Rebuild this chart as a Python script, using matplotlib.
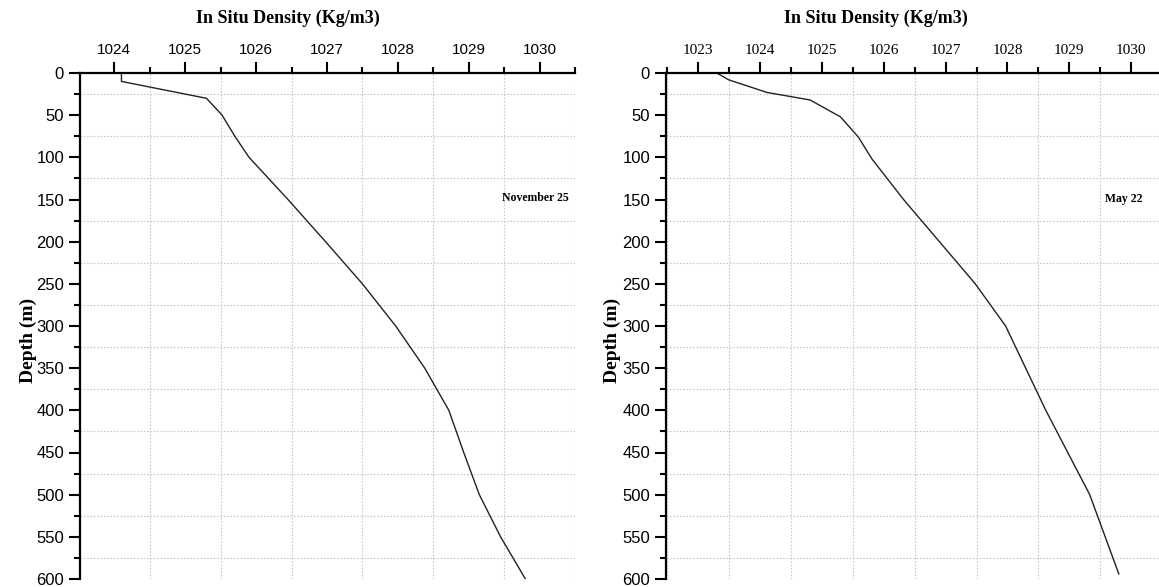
import matplotlib.pyplot as plt
from matplotlib.ticker import MultipleLocator

# depth profiles
nov_depth = [0, 10, 30, 50, 75, 100, 150, 200, 250, 300, 350, 400, 450, 500, 550, 600]
nov_density = [1024.1, 1024.1, 1025.3, 1025.52, 1025.7, 1025.9, 1026.45, 1026.98, 1027.5,
               1027.97, 1028.38, 1028.72, 1028.93, 1029.15, 1029.45, 1029.8]

may_depth = [0, 2, 8, 23, 32, 52, 76, 102, 150, 200, 250, 300, 400, 500, 594]
may_density = [1023.3, 1023.35, 1023.49, 1024.11, 1024.81, 1025.3, 1025.59, 1025.81,
               1026.32, 1026.9, 1027.48, 1027.97, 1028.62, 1029.33, 1029.8]

xlabel = 'In Situ Density (Kg/m3)'
ylabel = 'Depth (m)'

sans = ['Liberation Sans Narrow', 'Liberation Sans', 'DejaVu Sans']
serif = ['Liberation Serif', 'DejaVu Serif']

fig = plt.figure(figsize=(11.59, 5.87), dpi=100)
ax1 = fig.add_axes([80 / 1159, 8 / 587, 495 / 1159, 506 / 587])
ax2 = fig.add_axes([666 / 1159, 8 / 587, 493 / 1159, 506 / 587])


def style(ax, xlim, xticks, xfont):
    ax.set_xlim(*xlim)
    ax.set_ylim(600, 0)
    ax.xaxis.set_ticks_position('top')
    ax.set_xticks(xticks)
    ax.xaxis.set_minor_locator(MultipleLocator(0.5))
    ax.yaxis.set_major_locator(MultipleLocator(50))
    ax.yaxis.set_minor_locator(MultipleLocator(25))
    ax.tick_params(which='major', direction='out', length=8, width=1.5)
    ax.tick_params(which='minor', direction='out', length=4, width=1.5)
    for s in ['right', 'bottom']:
        ax.spines[s].set_visible(False)
    for s in ['left', 'top']:
        ax.spines[s].set_linewidth(1.6)
    ax.grid(which='minor', color='#c8c8c8', linestyle=(0, (1.5, 1.5)), linewidth=0.8)
    for lab in ax.get_xticklabels():
        lab.set_family(xfont)
        lab.set_fontsize(11)
    for lab in ax.get_yticklabels():
        lab.set_family(sans)
        lab.set_fontsize(12)


ax1.plot(nov_density, nov_depth, color='#222222', linewidth=1.0)
style(ax1, (1023.515, 1030.5), range(1024, 1031), sans)
ax1.text(1029.94, 148, 'November 25', family=serif, fontweight='bold', fontsize=8.5,
         ha='center', va='center')

ax2.plot(may_density, may_depth, color='#222222', linewidth=1.0)
style(ax2, (1022.48, 1030.45), range(1023, 1031), serif)
ax2.text(1029.88, 149, 'May 22', family=serif, fontweight='bold', fontsize=8.5,
         ha='center', va='center')

fig.text(288 / 1159, 1 - 18 / 587, xlabel, family=serif, fontweight='bold', fontsize=13,
         ha='center', va='center')
fig.text(876 / 1159, 1 - 18 / 587, xlabel, family=serif, fontweight='bold', fontsize=13,
         ha='center', va='center')
fig.text(28 / 1159, 1 - 340 / 587, ylabel, family=serif, fontweight='bold', fontsize=14,
         rotation=90, ha='center', va='center')
fig.text(612 / 1159, 1 - 340 / 587, ylabel, family=serif, fontweight='bold', fontsize=14,
         rotation=90, ha='center', va='center')

fig.savefig('out.png', dpi=100)
